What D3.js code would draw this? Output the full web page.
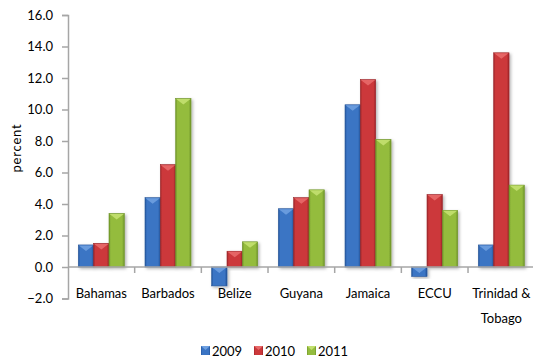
<!DOCTYPE html>
<html>
<head>
<meta charset="utf-8">
<script src="https://cdn.jsdelivr.net/npm/d3@7"></script>
<style>
  html, body { margin: 0; padding: 0; background: #fff; }
  svg { display: block; font-family: Lato, "Open Sans", sans-serif; }
</style>
</head>
<body>
<svg id="chart" width="533" height="358"></svg>
<script>
// Growth rates in percent, by economy and year
const categories = ["Bahamas", "Barbados", "Belize", "Guyana", "Jamaica", "ECCU", "Trinidad & Tobago"];
const years = ["2009", "2010", "2011"];
const values2009 = [1.4, 4.4, -1.2, 3.7, 10.3, -0.6, 1.4];
const values2010 = [1.5, 6.5, 1.0, 4.4, 11.9, 4.6, 13.6];
const values2011 = [3.4, 10.7, 1.6, 4.9, 8.1, 3.6, 5.2];
const yTicks = [-2, 0, 2, 4, 6, 8, 10, 12, 14, 16];

const seriesValues = [values2009, values2010, values2011];
const colors = [
  { base: "#3a74c4", light: "#6fa0e0", dark: "#26559a" },
  { base: "#cc383a", light: "#e86a6a", dark: "#9c2428" },
  { base: "#94bc3e", light: "#c3e070", dark: "#6f9428" }
];

const svg = d3.select("#chart");
const plotLeft = 68, plotRight = 534.7, plotTop = 15, plotBottom = 298.5;

const y = d3.scaleLinear().domain([-2, 16]).range([plotBottom, plotTop]);
const x0 = d3.scaleBand().domain(categories).range([plotLeft, plotRight])
  .paddingInner(0.31).paddingOuter(0.155);
const x1 = d3.scaleBand().domain(years).range([0, x0.bandwidth()]);

// Gradients for the bevelled bar look
const defs = svg.append("defs");
colors.forEach((c, i) => {
  const g = defs.append("linearGradient").attr("id", "grad" + i)
    .attr("x1", "0").attr("x2", "1").attr("y1", "0").attr("y2", "0");
  g.append("stop").attr("offset", "0").attr("stop-color", c.dark);
  g.append("stop").attr("offset", "0.12").attr("stop-color", c.base);
  g.append("stop").attr("offset", "0.4").attr("stop-color", c.base);
  g.append("stop").attr("offset", "0.85").attr("stop-color", c.base);
  g.append("stop").attr("offset", "1").attr("stop-color", c.dark);
});
const shadow = defs.append("filter").attr("id", "shadow")
  .attr("x", "-30%").attr("y", "-10%").attr("width", "170%").attr("height", "130%");
shadow.append("feDropShadow").attr("dx", 1.5).attr("dy", 1.5)
  .attr("stdDeviation", 1.4).attr("flood-color", "#000").attr("flood-opacity", 0.3);

const axisColor = "#a6a6a6";

// Y axis
const yAxis = svg.append("g").attr("transform", `translate(${plotLeft},0)`)
  .call(d3.axisLeft(y).tickValues(yTicks).tickFormat(d3.format(".1f")).tickSize(6).tickPadding(9));
yAxis.select(".domain").attr("stroke", axisColor).attr("stroke-width", 1.5);
yAxis.selectAll(".tick line").attr("stroke", axisColor).attr("stroke-width", 1.5);
yAxis.selectAll(".tick text").attr("fill", "#000").attr("font-size", "13px")
  .attr("font-family", "Lato, sans-serif");

// Y axis title
svg.append("text")
  .attr("transform", `translate(21,148) rotate(-90)`)
  .attr("text-anchor", "middle")
  .attr("font-size", "13px")
  .attr("letter-spacing", "0.8px")
  .attr("fill", "#000")
  .text("percent");

// Bars
const groups = svg.append("g").selectAll("g")
  .data(categories)
  .join("g")
  .attr("transform", d => `translate(${x0(d)},0)`);

groups.each(function(cat, ci) {
  const g = d3.select(this);
  years.forEach((yr, si) => {
    const v = seriesValues[si][ci];
    const bx = x1(yr), bw = x1.bandwidth();
    const yTop = y(Math.max(0, v)), yBot = y(Math.min(0, v));
    g.append("rect")
      .attr("x", bx).attr("y", yTop)
      .attr("width", bw).attr("height", yBot - yTop)
      .attr("fill", `url(#grad${si})`)
      .attr("stroke", colors[si].dark).attr("stroke-width", 0.6)
      .attr("filter", "url(#shadow)");
    // bevel highlight on the top face
    const h = Math.min(6, yBot - yTop);
    g.append("path")
      .attr("d", `M${bx + 0.5},${yTop + 0.5} L${bx + bw - 0.5},${yTop + 0.5} L${bx + bw / 2},${yTop + h} Z`)
      .attr("fill", colors[si].light).attr("opacity", 0.9);
  });
});

// X axis at zero with category separators
const zeroY = y(0);
svg.append("line")
  .attr("x1", plotLeft).attr("x2", plotRight).attr("y1", zeroY).attr("y2", zeroY)
  .attr("stroke", axisColor).attr("stroke-width", 1.5);
const step = x0.step();
d3.range(1, categories.length + 1).forEach(i => {
  const tx = plotLeft + i * step;
  svg.append("line")
    .attr("x1", tx).attr("x2", tx).attr("y1", zeroY).attr("y2", zeroY + 6)
    .attr("stroke", axisColor).attr("stroke-width", 1.5);
});

// Category labels
const labelLines = { "Trinidad & Tobago": ["Trinidad &", "Tobago"] };
categories.forEach((cat, i) => {
  const cx = plotLeft + (i + 0.5) * step;
  const lines = labelLines[cat] || [cat];
  const t = svg.append("text")
    .attr("text-anchor", "middle")
    .attr("font-size", "13px")
    .attr("fill", "#000");
  lines.forEach((ln, li) => {
    t.append("tspan").attr("x", cx).attr("y", 298 + li * 25).text(ln);
  });
});

// Legend
const legendX = [201, 254, 307];
years.forEach((yr, si) => {
  const lx = legendX[si];
  svg.append("rect")
    .attr("x", lx).attr("y", 346).attr("width", 9).attr("height", 9)
    .attr("fill", `url(#grad${si})`);
  svg.append("path")
    .attr("d", `M${lx},${346} L${lx + 9},${346} L${lx + 4.5},${350} Z`)
    .attr("fill", colors[si].light);
  svg.append("text")
    .attr("x", lx + 11).attr("y", 355.5)
    .attr("font-size", "13px")
    .attr("fill", "#000")
    .text(yr);
});
</script>
</body>
</html>
